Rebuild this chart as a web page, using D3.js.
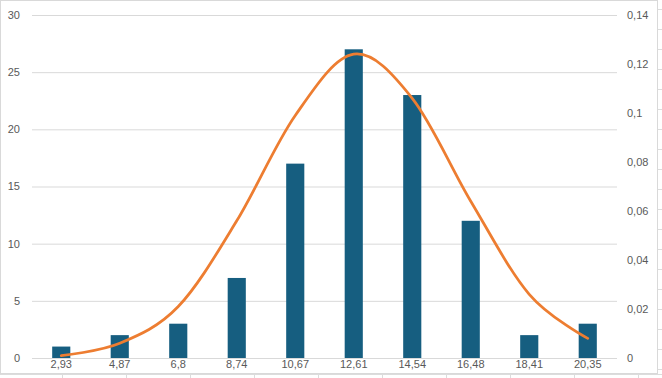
<!DOCTYPE html>
<html>
<head>
<meta charset="utf-8">
<script src="https://cdn.jsdelivr.net/npm/d3@7"></script>
<style>
  body { margin: 0; background: #fff; }
  text { font-family: "Liberation Sans", Arial, sans-serif; font-size: 11px; fill: #595959; }
</style>
</head>
<body>
<div id="chart"></div>
<script>
// histogram classes (bin centres, comma decimals as in the original)
var categories = ['2,93', '4,87', '6,8', '8,74', '10,67', '12,61', '14,54', '16,48', '18,41', '20,35']
var counts = [1, 2, 3, 7, 17, 27, 23, 12, 2, 3]
// fitted density
var density = [0.001, 0.006, 0.021, 0.056, 0.099, 0.124, 0.106, 0.064, 0.026, 0.008]
var leftTicks = [0, 5, 10, 15, 20, 25, 30]
var rightTicks = [0, 0.02, 0.04, 0.06, 0.08, 0.1, 0.12, 0.14]

var W = 662, H = 378
var m = {left: 32, right: 45, top: 15, bottom: 20}

var svg = d3.select('#chart').append('svg').attr('width', W).attr('height', H)

var x = d3.scaleBand().domain(categories).range([m.left, W - m.right]).paddingInner(0.69).paddingOuter(0.345)
var y = d3.scaleLinear().domain([0, 30]).range([H - m.bottom, m.top])
var y2 = d3.scaleLinear().domain([0, 0.14]).range([H - m.bottom, m.top])

var comma = d3.formatLocale({decimal: ',', thousands: '.', grouping: [3], currency: ['', '']})

// sheet grid showing around the chart object
var sheet = svg.append('g').attr('stroke', '#dcdcdc').attr('stroke-width', 1)
sheet.append('line').attr('x1', 0).attr('x2', W).attr('y1', 374.5).attr('y2', 374.5)
d3.range(62, W, 64).forEach(function(px){
  sheet.append('line').attr('x1', px + .5).attr('x2', px + .5).attr('y1', 374).attr('y2', H)
})
d3.range(9.5, 374, 20).forEach(function(py){
  sheet.append('line').attr('x1', 658).attr('x2', W).attr('y1', py).attr('y2', py)
})

// chart border
svg.append('rect').attr('x', .5).attr('y', .5).attr('width', 657).attr('height', 373)
  .attr('fill', '#fff').attr('stroke', '#d9d9d9')

// gridlines
svg.append('g')
  .attr('transform', 'translate(' + m.left + ',0)')
  .call(d3.axisLeft(y).tickValues(leftTicks).tickSize(-(W - m.left - m.right)).tickFormat(''))
  .call(function(g){ g.select('.domain').remove() })
  .selectAll('line').attr('stroke', '#d9d9d9')

// left axis labels
svg.append('g').selectAll('text').data(leftTicks).join('text')
  .attr('x', 20).attr('y', function(d){ return y(d) }).attr('dy', '0.35em')
  .attr('text-anchor', 'end').text(function(d){ return d })

// right axis labels
svg.append('g').selectAll('text').data(rightTicks).join('text')
  .attr('x', 627).attr('y', function(d){ return y2(d) }).attr('dy', '0.35em')
  .text(comma.format('.2~f'))

// bars
svg.append('g').selectAll('rect').data(counts).join('rect')
  .attr('x', function(d, i){ return x(categories[i]) })
  .attr('width', x.bandwidth())
  .attr('y', function(d){ return y(d) })
  .attr('height', function(d){ return y(0) - y(d) })
  .attr('fill', '#165e80')

// category axis
svg.append('line').attr('x1', m.left).attr('x2', W - m.right)
  .attr('y1', y(0) + .5).attr('y2', y(0) + .5).attr('stroke', '#d9d9d9')
svg.append('g').selectAll('text').data(categories).join('text')
  .attr('x', function(d){ return x(d) + x.bandwidth() / 2 })
  .attr('y', y(0) + 10).attr('text-anchor', 'middle').text(function(d){ return d })

// density curve
var line = d3.line()
  .x(function(d, i){ return x(categories[i]) + x.bandwidth() / 2 })
  .y(function(d){ return y2(d) })
  .curve(d3.curveCardinal.tension(0))
svg.append('path').attr('d', line(density))
  .attr('fill', 'none').attr('stroke', '#ed7d31').attr('stroke-width', 2.75).attr('stroke-linecap', 'round')
</script>
</body>
</html>
